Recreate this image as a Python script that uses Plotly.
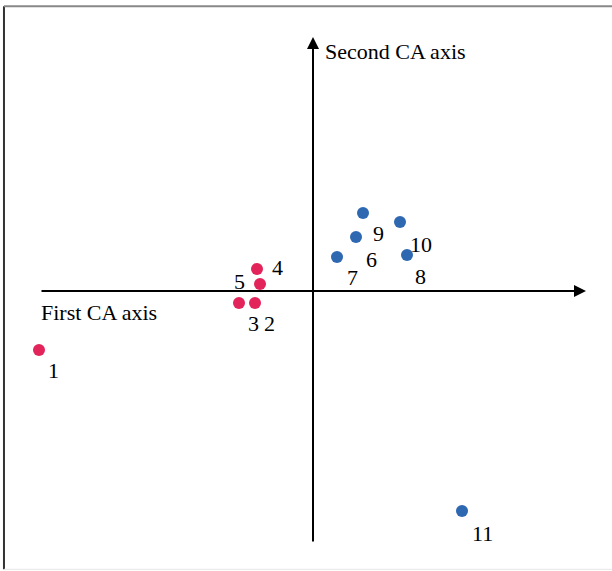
import plotly.graph_objects as go

# Correspondence analysis scores (first axis, second axis)
labels = ["1", "2", "3", "4", "5", "6", "7", "8", "9", "10", "11"]
axis1 = [-2.74, -0.58, -0.74, -0.56, -0.53, 0.43, 0.24, 0.94, 0.50, 0.87, 1.49]
axis2 = [-0.59, -0.12, -0.12, 0.22, 0.07, 0.54, 0.34, 0.36, 0.78, 0.69, -2.20]
groups = ["A", "A", "A", "A", "A", "B", "B", "B", "B", "B", "B"]

# pixel offsets of each number label from its point
label_dx = [14, 14, 14, 20, -21, 15, 15, 13, 15, 21, 20]
label_dy = [-20, -20, -20, 2, 3, -22, -20, -21, -20, -22, -22]

group_colors = {"A": "#E2245A", "B": "#2E68B1"}
FONT = "Liberation Serif, Times New Roman, serif"

# extent of the drawn coordinate axes
x_axis_from, x_axis_to = -2.73, 2.73
y_axis_from, y_axis_to = -2.52, 2.54

fig = go.Figure()

for g in ["A", "B"]:
    idx = [i for i, gg in enumerate(groups) if gg == g]
    fig.add_trace(go.Scatter(
        x=[axis1[i] for i in idx],
        y=[axis2[i] for i in idx],
        mode="markers",
        marker=dict(size=12, color=group_colors[g]),
        hovertext=[labels[i] for i in idx],
        showlegend=False,
    ))

annotations = []
for lab, x, y, dx, dy in zip(labels, axis1, axis2, label_dx, label_dy):
    annotations.append(dict(
        x=x, y=y, text=lab, showarrow=False, xshift=dx, yshift=dy,
        xanchor="center", yanchor="middle",
        font=dict(family=FONT, size=22, color="black"),
    ))

# arrowed coordinate axes
annotations.append(dict(
    x=x_axis_to, y=0, ax=x_axis_from, ay=0, xref="x", yref="y", axref="x", ayref="y",
    text="", showarrow=True, arrowhead=2, arrowsize=1.2, arrowwidth=2, arrowcolor="black",
))
annotations.append(dict(
    x=0, y=y_axis_to, ax=0, ay=y_axis_from, xref="x", yref="y", axref="x", ayref="y",
    text="", showarrow=True, arrowhead=2, arrowsize=1.2, arrowwidth=2, arrowcolor="black",
))

annotations.append(dict(
    x=0.10, y=2.40, text="Second CA axis", showarrow=False,
    xanchor="left", yanchor="middle",
    font=dict(family=FONT, size=22, color="black"),
))
annotations.append(dict(
    x=-2.74, y=-0.215, text="First CA axis", showarrow=False,
    xanchor="left", yanchor="middle",
    font=dict(family=FONT, size=22, color="black"),
))

# outer frame
shapes = [
    dict(type="line", xref="paper", yref="paper", x0=0.0065, x1=0.0065, y0=0.003, y1=0.989,
         line=dict(color="#333333", width=2)),
    dict(type="line", xref="paper", yref="paper", x0=0.0065, x1=1.0, y0=0.989, y1=0.989,
         line=dict(color="#888888", width=2)),
    dict(type="line", xref="paper", yref="paper", x0=0.0065, x1=1.0, y0=0.003, y1=0.003,
         line=dict(color="#e6e6e6", width=1)),
]

fig.update_layout(
    width=612, height=571,
    margin=dict(l=0, r=0, t=0, b=0),
    paper_bgcolor="white", plot_bgcolor="white",
    xaxis=dict(range=[-3.13, 2.99], visible=False, fixedrange=True),
    yaxis=dict(range=[-2.80, 2.91], visible=False, fixedrange=True),
    annotations=annotations,
    shapes=shapes,
)

fig.write_html("out.html")
